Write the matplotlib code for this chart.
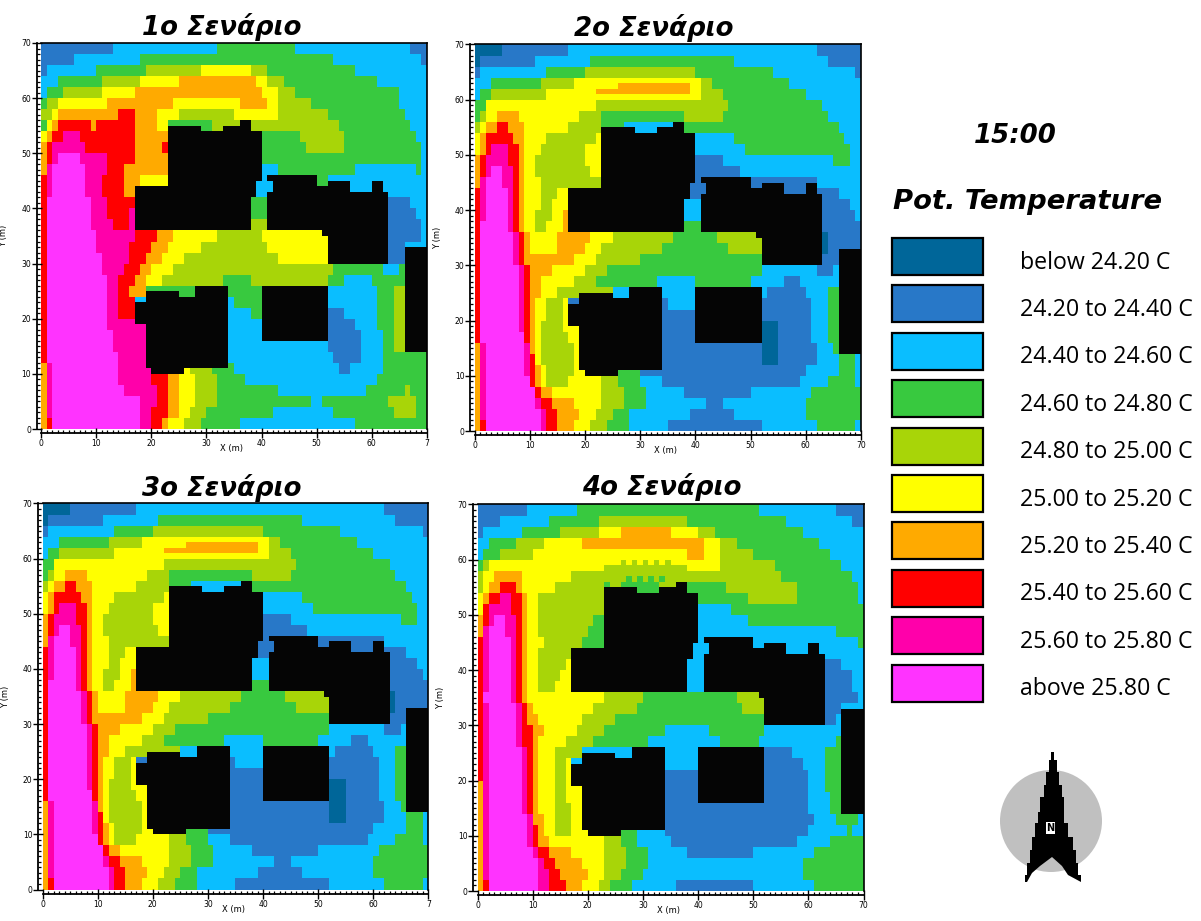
import numpy as np
import matplotlib
matplotlib.use("Agg")
import matplotlib.pyplot as plt
from matplotlib.colors import ListedColormap, BoundaryNorm
from matplotlib.patches import Rectangle, Circle, Polygon
from matplotlib.ticker import MultipleLocator

W, H = 1201, 921

TITLES = ["1ο Σενάριο", "2ο Σενάριο", "3ο Σενάριο", "4ο Σενάριο"]
TIME_LABEL = "15:00"
LEGEND_TITLE = "Pot. Temperature"
LEGEND_LABELS = ["below 24.20 C", "24.20 to 24.40 C", "24.40 to 24.60 C", "24.60 to 24.80 C",
                 "24.80 to 25.00 C", "25.00 to 25.20 C", "25.20 to 25.40 C", "25.40 to 25.60 C",
                 "25.60 to 25.80 C", "above 25.80 C"]
CLASS_COLORS = ["#006699", "#2878C8", "#0ABEFF", "#38C93F", "#A8D508",
                "#FFFF00", "#FFAA00", "#FF0000", "#FF00AA", "#FF33FF", "#050505"]

# Each row covers 2 m of Y, from y=70 downward; tokens are class:x_end in metres
SCENARIO_1 = [
    "1:13 2:32 3:46 2:67 1:70",
    "1:6 2:18 3:53 2:69 1:70",
    "1:1 2:10 3:19 4:29 5:38 4:41 3:57 2:70",
    "2:3 3:11 4:18 5:25 6:39 5:41 4:44 3:61 2:70",
    "2:1 3:4 4:11 5:17 6:40 5:43 4:46 3:65 2:70",
    "3:1 4:3 5:12 6:24 5:36 6:41 5:43 4:49 3:65 2:70",
    "4:2 5:3 6:14 7:17 6:21 5:25 4:35 5:43 4:52 3:66 2:70",
    "3:1 5:2 6:3 7:9 6:10 7:17 6:21 5:23 3:31 4:38 4:54 3:67 2:70",
    "5:1 6:2 7:4 8:7 7:17 6:23 3:47 4:55 3:68 2:70",
    "6:1 7:2 8:8 7:17 6:22 7:23 3:48 4:55 3:69 2:70",
    "6:1 7:2 8:3 9:7 8:12 7:17 6:23 3:69 2:70",
    "6:1 8:2 9:8 8:12 7:15 6:23 2:43 3:57 2:68 3:69 2:70",
    "7:1 8:2 9:8 8:11 7:15 6:18 5:23 2:42 3:52 2:70",
    "7:1 8:2 9:8 8:11 7:15 6:17 2:70",
    "7:1 9:9 8:12 7:17 3:41 1:67 2:70",
    "7:1 9:9 8:12 7:16 8:17 3:41 1:68 2:70",
    "7:1 9:9 8:13 7:16 8:17 4:41 1:69 2:70",
    "7:1 9:10 8:17 7:21 6:24 5:32 4:40 5:52 1:69 2:70",
    "7:1 9:10 8:16 7:20 6:23 5:29 4:41 5:52 1:66 2:70",
    "7:1 9:11 8:16 7:19 6:22 5:26 4:43 5:52 1:66 2:70",
    "7:1 9:11 8:15 7:18 6:20 5:24 4:53 3:62 2:65 3:70",
    "7:1 9:12 8:14 7:17 6:19 5:22 4:33 3:38 4:52 3:55 2:60 3:70",
    "7:1 9:12 8:14 7:16 6:19 3:40 2:61 3:64 4:70",
    "7:1 9:12 8:14 7:17 2:35 3:40 2:61 3:64 4:70",
    "7:1 9:12 8:14 7:17 2:38 3:40 1:55 2:61 3:64 4:70",
    "7:1 9:12 8:19 2:40 1:57 2:61 3:64 4:70",
    "7:1 9:13 8:19 2:40 1:58 2:62 3:64 4:70",
    "7:1 9:13 8:19 2:52 1:58 2:62 3:64 4:70",
    "7:1 9:14 8:19 2:53 1:58 2:62 3:70",
    "6:1 8:2 9:14 8:20 5:27 4:31 3:35 2:54 1:56 2:62 3:70",
    "6:1 8:2 9:14 8:20 7:23 6:25 5:28 4:32 3:37 2:61 3:70",
    "6:1 8:2 9:15 8:21 7:23 6:25 5:28 4:32 3:43 2:59 3:66 4:67 3:70",
    "6:1 8:2 9:18 8:21 7:23 6:25 5:28 4:32 3:49 2:51 3:63 4:68 3:70",
    "6:1 8:2 9:18 8:20 7:23 6:25 5:27 4:30 3:42 2:53 3:64 4:68 3:70",
    "6:1 7:2 9:18 8:20 7:22 6:23 5:26 4:29 3:36 2:57 3:70",
]

SCENARIO_2 = [
    "0:5 1:17 2:62 1:70",
    "0:1 1:11 2:21 3:47 2:64 1:70",
    "1:1 2:13 3:20 4:40 3:54 2:69 1:70",
    "2:3 3:12 4:18 5:41 4:43 3:57 2:70",
    "2:1 3:3 4:13 5:41 4:45 3:60 2:70",
    "3:2 5:22 4:46 3:63 2:70",
    "3:1 4:2 5:4 6:8 5:19 4:23 3:38 4:45 3:64 2:70",
    "4:1 5:2 6:4 7:6 6:9 5:17 4:23 3:27 2:36 3:66 2:70",
    "5:1 6:2 7:7 6:9 5:13 4:22 5:23 2:47 3:67 2:70",
    "5:1 6:2 7:3 8:6 7:8 6:9 5:12 4:20 5:23 2:49 3:68 2:70",
    "6:1 7:2 8:6 7:8 6:9 5:11 4:20 5:23 1:45 2:65 3:68 2:70",
    "6:1 7:2 8:3 9:5 8:7 7:8 6:9 5:11 4:21 5:23 1:48 2:70",
    "6:1 8:2 9:5 8:7 7:8 6:9 5:12 4:23 1:62 2:70",
    "7:1 8:2 9:6 8:7 7:8 6:9 5:12 4:15 5:17 1:66 2:70",
    "7:1 8:2 9:6 8:7 7:8 6:9 5:12 4:14 5:17 2:41 1:68 2:70",
    "7:1 8:2 9:6 8:7 7:8 6:9 5:11 4:14 5:16 6:17 2:41 1:69 2:70",
    "7:1 9:6 8:7 7:8 6:9 5:11 4:13 5:16 6:17 3:41 1:70",
    "7:1 9:7 8:8 7:9 6:10 5:15 6:21 5:25 4:36 3:44 4:52 0:64 1:70",
    "7:1 9:7 8:8 7:9 6:10 5:15 6:20 5:23 4:34 3:46 4:52 0:64 1:70",
    "7:1 9:7 8:8 7:9 6:18 5:22 4:30 3:52 1:70",
    "7:1 9:8 8:9 7:10 6:14 5:20 4:24 3:52 2:62 1:65 2:70",
    "7:1 9:8 8:9 7:10 6:12 5:18 4:22 3:33 2:40 3:50 2:56 1:59 2:70",
    "7:1 9:8 8:9 7:10 6:12 5:15 4:25 2:53 1:60 2:64 3:70",
    "7:1 9:8 8:9 7:10 6:11 5:13 4:16 5:17 1:35 2:40 1:61 2:64 3:70",
    "7:1 9:8 8:9 7:10 6:11 5:13 4:16 5:17 1:61 2:64 3:70",
    "7:1 9:8 8:9 7:10 6:11 5:12 4:16 5:19 1:52 0:55 1:61 2:64 3:70",
    "7:1 9:9 7:10 6:11 5:12 4:17 5:19 1:52 0:55 1:61 2:64 3:70",
    "6:1 8:2 9:9 8:10 6:11 5:12 4:18 5:19 1:52 0:55 1:62 2:65 3:70",
    "6:1 8:2 9:9 8:10 7:11 5:12 4:18 5:19 1:52 0:55 1:62 2:66 3:69 2:70",
    "6:1 8:2 9:9 8:10 7:11 6:12 5:13 4:18 5:20 3:30 1:60 2:66 3:69 2:70",
    "6:1 8:2 9:10 7:11 6:12 5:13 4:17 5:23 4:26 3:30 2:34 1:59 2:64 3:69 2:70",
    "6:1 8:2 9:11 7:12 6:14 5:23 4:27 3:31 2:38 1:50 2:61 3:70",
    "6:1 8:2 9:11 8:12 7:14 6:18 5:23 4:27 3:31 2:42 1:45 2:60 3:70",
    "6:1 8:2 9:12 8:13 7:15 6:19 5:22 4:25 3:28 2:39 1:47 2:60 3:70",
    "6:1 7:2 9:12 8:13 7:15 6:18 5:21 4:24 3:28 2:35 1:52 2:62 3:69 2:70",
]

SCENARIO_3 = list(SCENARIO_2)

SCENARIO_4 = [
    "1:9 2:18 3:51 2:65 1:70",
    "1:4 2:13 3:22 4:38 3:56 2:68 1:70",
    "1:1 2:8 3:15 4:22 5:26 6:35 5:40 4:43 3:59 2:70",
    "2:2 3:7 4:12 5:19 6:41 5:44 4:47 3:62 2:70",
    "2:1 3:4 4:10 5:38 6:41 5:44 4:50 3:64 2:70",
    "3:1 4:2 5:23 4:38 5:44 4:54 3:66 2:70",
    "4:1 5:3 6:8 5:17 4:55 3:68 2:70",
    "4:1 5:2 6:4 7:7 6:8 5:14 4:23 3:45 4:58 3:69 2:70",
    "5:1 6:2 7:4 8:6 7:8 6:9 5:11 4:23 3:49 4:58 3:69 2:70",
    "5:1 7:2 8:6 7:8 6:9 5:11 4:23 2:46 3:70",
    "6:1 7:2 8:3 9:5 8:7 7:8 6:9 5:11 4:21 3:23 2:49 3:70",
    "6:1 8:2 9:5 8:7 7:8 6:9 5:11 4:20 3:23 2:65 3:70",
    "7:1 8:2 9:6 8:7 7:8 6:9 5:12 4:19 3:23 2:69 3:70",
    "7:1 8:2 9:6 8:7 7:8 6:9 5:11 4:17 2:70",
    "7:1 8:2 9:6 8:7 7:8 6:9 5:11 4:16 5:17 2:41 1:66 2:70",
    "7:1 8:2 9:6 8:7 7:8 6:9 5:11 4:15 5:17 2:41 1:68 2:70",
    "7:1 8:2 9:6 8:7 7:8 6:9 5:11 4:14 5:17 2:41 1:68 2:70",
    "7:1 9:6 8:7 7:8 6:9 5:23 4:30 3:47 4:52 1:69 2:70",
    "7:1 8:2 9:7 8:8 7:9 6:10 5:21 4:29 3:48 4:52 1:66 2:70",
    "7:1 8:2 9:7 8:8 7:9 6:11 5:19 4:25 3:52 1:65 2:70",
    "7:1 8:2 9:7 8:8 7:10 6:12 5:18 4:23 3:34 2:42 3:52 2:70",
    "7:1 8:2 9:7 8:8 7:10 6:11 5:16 4:21 3:31 2:44 3:51 2:65 3:70",
    "7:1 8:2 9:8 8:9 7:10 6:11 5:14 4:19 2:52 1:57 2:63 3:70",
    "7:1 8:2 9:8 8:9 7:10 6:11 5:14 4:16 5:17 2:40 1:59 2:63 3:70",
    "7:1 8:2 9:8 8:9 7:10 6:11 5:14 4:16 5:17 1:60 2:63 3:70",
    "6:1 8:2 9:8 8:9 7:10 6:11 5:14 4:16 5:19 1:60 2:63 3:70",
    "6:1 8:2 9:8 8:9 7:10 6:11 5:14 4:16 5:19 1:60 2:64 3:70",
    "6:1 8:2 9:8 8:9 7:10 6:11 5:14 4:17 5:19 1:60 2:64 3:70",
    "6:1 8:2 9:9 8:10 7:10 6:12 5:14 4:17 5:19 1:61 2:65 3:69 2:70",
    "6:1 8:2 9:9 8:10 7:11 6:12 5:14 4:17 5:20 3:29 2:34 1:60 2:67 3:68 2:70",
    "6:1 8:2 9:9 8:10 7:11 6:13 5:23 4:26 3:29 2:35 1:58 2:64 3:70",
    "6:1 8:2 9:10 8:11 7:13 6:17 5:23 4:27 3:31 2:38 1:50 2:61 3:70",
    "6:1 8:2 9:11 8:12 7:14 6:19 5:23 4:27 3:31 2:59 3:70",
    "6:1 8:2 9:11 8:13 7:15 6:20 5:23 4:26 3:30 2:59 3:70",
    "6:1 7:2 9:11 8:13 7:16 6:19 5:22 4:24 3:28 2:36 1:50 2:61 3:70",
]

# One-metre details on top of the 2 m rows: (y, x_start, x_end, class)
DETAILS_2 = [(62, 26, 39, 6), (61, 22, 39, 6)]
DETAILS_3 = list(DETAILS_2)
DETAILS_4 = [
    (59, 23, 38, 5), (59, 26, 27, 4), (59, 28, 29, 4), (59, 30, 31, 4), (59, 32, 33, 4), (59, 34, 35, 4),
    (56, 27, 28, 3), (56, 29, 30, 3), (56, 31, 32, 3), (56, 33, 34, 3),
    (55, 23, 24, 3), (55, 24, 26, 4), (55, 26, 33, 3), (55, 33, 38, 4),
]

# Buildings as (y_start, y_end, x_start, x_end) in metres
BUILDINGS = [
    (36, 42, 17, 38), (42, 44, 17, 39), (44, 45, 23, 39), (45, 54, 23, 40),
    (54, 55, 23, 29), (54, 55, 33, 38), (55, 56, 36, 38),
    (30, 35, 52, 63), (35, 36, 51, 63), (36, 43, 41, 63), (43, 44, 42, 56),
    (43, 44, 60, 62), (44, 45, 42, 50), (44, 45, 52, 56), (44, 45, 60, 62), (45, 46, 41, 50),
    (10, 11, 20, 26), (11, 19, 19, 34), (19, 23, 17, 34), (23, 24, 19, 34),
    (24, 25, 19, 25), (24, 25, 28, 34), (25, 26, 28, 34),
    (16, 26, 40, 52), (14, 33, 66, 70),
]
BUILDING_CLASS = 10

# North arrow outline (left edge, apex to tip, then notch, then right edge)
ARROW_X = [1051, 1051, 1049, 1049, 1046, 1046, 1044, 1044, 1040, 1040, 1038, 1038, 1035, 1035,
           1032, 1032, 1030, 1030, 1027, 1027, 1025, 1025, 1027, 1032, 1040, 1052,
           1062, 1068, 1081, 1081, 1078, 1078, 1076, 1076, 1073, 1073, 1068, 1068,
           1064, 1064, 1062, 1062, 1059, 1059, 1057, 1057, 1054, 1054]
ARROW_Y = [752, 760, 760, 772, 772, 785, 785, 797, 797, 812, 812, 823, 823, 837,
           837, 850, 850, 863, 863, 875, 875, 882, 882, 873, 866, 857,
           866, 875, 882, 875, 875, 863, 863, 850, 850, 837, 837, 823,
           823, 797, 797, 785, 785, 772, 772, 760, 760, 752]


def decode(rows, details):
    grid = np.zeros((70, 70), dtype=int)
    for i, row in enumerate(rows):
        start = 0
        for token in row.split():
            c, end = token.split(":")
            end = int(end)
            grid[69 - 2 * i, start:end] = int(c)
            grid[68 - 2 * i, start:end] = int(c)
            start = max(start, end)
    for y, x0, x1, c in details:
        grid[y, x0:x1] = c
    for y0, y1, x0, x1 in BUILDINGS:
        grid[y0:y1, x0:x1] = BUILDING_CLASS
    return grid


fig = plt.figure(figsize=(W / 100, H / 100), dpi=100, facecolor="white")
cmap = ListedColormap(CLASS_COLORS)
norm = BoundaryNorm(np.arange(-0.5, 11.5), cmap.N)

PANELS = [
    (SCENARIO_1, [], (41, 427, 43, 429), True),
    (SCENARIO_2, DETAILS_2, (474.5, 861, 44.5, 431), False),
    (SCENARIO_3, DETAILS_3, (42.5, 428.5, 503.5, 889.5), True),
    (SCENARIO_4, DETAILS_4, (477.5, 863.5, 504.5, 891), False),
]
TITLE_POS = [(222, 27), (654, 28), (222, 488), (662, 487)]
YLAB_X = [4, 438, 6, 441]
TICKVALS = np.arange(0, 71, 10)

for (rows, details, (l, r, t, b), clip70), title, (tx, ty), yx in zip(PANELS, TITLES, TITLE_POS, YLAB_X):
    ax = fig.add_axes([l / W, 1 - b / H, (r - l) / W, (b - t) / H])
    ax.pcolormesh(np.arange(71), np.arange(71), decode(rows, details), cmap=cmap, norm=norm,
                  edgecolors="none")
    ax.set_xlim(0, 70)
    ax.set_ylim(0, 70)
    for s in ["left", "bottom"]:
        ax.spines[s].set_position(("outward", 3))
        ax.spines[s].set_linewidth(1.3)
    for s in ["top", "right"]:
        ax.spines[s].set_linewidth(1.2)
    ax.set_xticks(TICKVALS)
    ax.set_yticks(TICKVALS)
    xl = [str(v) for v in TICKVALS]
    if clip70:
        xl[-1] = "7"
    ax.set_xticklabels(xl)
    ax.xaxis.set_minor_locator(MultipleLocator(1))
    ax.yaxis.set_minor_locator(MultipleLocator(1))
    ax.tick_params(which="major", direction="inout", length=6.5, width=1.0,
                   labelsize=5.5, pad=1, colors="black")
    ax.tick_params(which="minor", direction="in", length=2.2, width=0.9)
    fig.text((l + r - 4) / 2 / W, 1 - (b + 19.5) / H, "X (m)", fontsize=6, ha="center", va="center")
    fig.text(yx / W, 1 - (t + b) / 2 / H, "Y (m)", fontsize=6, rotation=90, ha="center", va="center")
    fig.text(tx / W, 1 - ty / H, title, fontsize=18.7, fontweight="bold", style="italic",
             family="DejaVu Sans", ha="center", va="center")

fig.text(1015 / W, 1 - 136 / H, TIME_LABEL, fontsize=18.7, fontweight="bold", style="italic",
         ha="center", va="center")
fig.text(1028 / W, 1 - 202 / H, LEGEND_TITLE, fontsize=19.7, fontweight="bold", style="italic",
         ha="center", va="center")

ov = fig.add_axes([0, 0, 1, 1], facecolor="none")
ov.set_xlim(0, W)
ov.set_ylim(H, 0)
ov.axis("off")
for i, lab in enumerate(LEGEND_LABELS):
    y0 = 238 + 47.4 * i
    ov.add_patch(Rectangle((892, y0), 91, 37, facecolor=CLASS_COLORS[i], edgecolor="black", linewidth=1.6))
    ov.text(1020, y0 + 24.5, lab, fontsize=16.7, family="Open Sans", ha="left", va="center")

ov.add_patch(Circle((1051, 821), 51, facecolor="#C0C0C0", edgecolor="none"))
ov.add_patch(Polygon(np.column_stack([ARROW_X, ARROW_Y]), closed=True, facecolor="black", edgecolor="none"))
ov.text(1050.5, 828, "N", fontsize=7, fontweight="bold", color="black", ha="center", va="center",
        bbox=dict(facecolor="white", edgecolor="none", pad=0.5))

fig.savefig("out.png", dpi=100)
